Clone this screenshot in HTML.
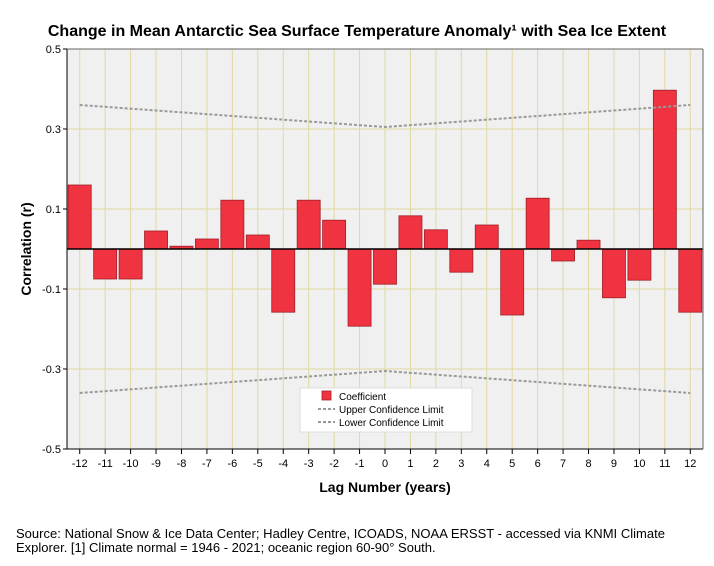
<!DOCTYPE html>
<html><head><meta charset="utf-8"><style>
body{margin:0;background:#fff;font-family:"Liberation Sans",Arial,sans-serif;}
svg text{font-family:"Liberation Sans",Arial,sans-serif;}
</style></head><body>
<svg id="chart" width="714" height="561" xmlns="http://www.w3.org/2000/svg">
<rect width="714" height="561" fill="#fff"/>
<text x="357" y="36" text-anchor="middle" font-size="16" font-weight="bold">Change in Mean Antarctic Sea Surface Temperature Anomaly¹ with Sea Ice Extent</text>
<rect x="67" y="49" width="636" height="400" fill="#f0f0f0"/>
<g id="grid"></g>
<g id="bars"></g>
<g id="lines"></g>
<g id="axes"></g>
<text transform="translate(31,249) rotate(-90)" text-anchor="middle" font-size="14" font-weight="bold">Correlation (r)</text>
<text x="385" y="492" text-anchor="middle" font-size="14" font-weight="bold">Lag Number (years)</text>
<g>
<rect x="300" y="388" width="172" height="44" fill="#fff" stroke="#ddd"/>
<rect x="322" y="391" width="9" height="9" fill="#ef3340" stroke="#a0202a" stroke-width="0.8"/>
<text x="339" y="400" font-size="10">Coefficient</text>
<line x1="318" y1="409" x2="335" y2="409" stroke="#999" stroke-width="2" stroke-dasharray="3,2"/>
<text x="339" y="413" font-size="10">Upper Confidence Limit</text>
<line x1="318" y1="422" x2="335" y2="422" stroke="#999" stroke-width="2" stroke-dasharray="3,2"/>
<text x="339" y="426" font-size="10">Lower Confidence Limit</text>
</g>
<text x="16" y="538" font-size="13" textLength="649">Source: National Snow &amp; Ice Data Center; Hadley Centre, ICOADS, NOAA ERSST - accessed via KNMI Climate</text>
<text x="16" y="552" font-size="13">Explorer. [1] Climate normal = 1946 - 2021; oceanic region 60-90° South.</text>
</svg>
<script>
const lags=[-12,-11,-10,-9,-8,-7,-6,-5,-4,-3,-2,-1,0,1,2,3,4,5,6,7,8,9,10,11,12];
const coefficients=[0.16,-0.075,-0.075,0.045,0.007,0.025,0.122,0.035,-0.158,0.122,0.072,-0.193,-0.088,0.083,0.048,-0.058,0.06,-0.165,0.127,-0.03,0.022,-0.122,-0.078,0.397,-0.158];
const limitLags=[-12,0,12];
const upperLimits=[0.36,0.305,0.36];
const lowerLimits=[-0.36,-0.305,-0.36];
const yTicks=[0.5,0.3,0.1,-0.1,-0.3,-0.5];
const yTickLabels=["0.5","0.3","0.1","-0.1","-0.3","-0.5"];
const NS="http://www.w3.org/2000/svg";
const L=67,R=703,T=49,B=449,yMin=-0.5,yMax=0.5;
const band=(R-L)/lags.length;
function xs(l){return L+band*(l-lags[0])+band/2;}
function ys(v){return B-(v-yMin)/(yMax-yMin)*(B-T);}
function mk(tag,attrs,parent){const e=document.createElementNS(NS,tag);for(const k in attrs)e.setAttribute(k,attrs[k]);document.getElementById(parent).appendChild(e);return e;}
lags.forEach(l=>{const g=mk('line',{x1:xs(l),x2:xs(l),y1:T,y2:B,stroke:'#e0d9a0','stroke-width':1},'grid');

});
yTicks.forEach(v=>{const g=mk('line',{x1:L,x2:R,y1:ys(v),y2:ys(v),stroke:'#e0d9a0','stroke-width':1},'grid');

});
lags.forEach((l,i)=>{const v=coefficients[i];const y0=ys(0),y1=ys(v);
const b=mk('rect',{x:xs(l)-band/2+1.2,y:Math.min(y0,y1),width:band-2.4,height:Math.abs(y1-y0),fill:'#ef3340',stroke:'#a0202a','stroke-width':0.8},'bars');

});
function pl(arr,name){const p=mk('polyline',{points:limitLags.map((l,i)=>xs(l)+','+ys(arr[i])).join(' '),fill:'none',stroke:'#999','stroke-width':2,'stroke-dasharray':'3,2'},'lines');

}
pl(upperLimits,'upper-confidence-line');pl(lowerLimits,'lower-confidence-line');
const z=mk('line',{x1:L,x2:R,y1:ys(0),y2:ys(0),stroke:'#000','stroke-width':1.5},'axes');


mk('line',{x1:L,x2:L,y1:T,y2:B,stroke:'#000','stroke-width':1},'axes');
mk('line',{x1:L,x2:R,y1:B,y2:B,stroke:'#000','stroke-width':1},'axes');
mk('line',{x1:L,x2:R,y1:T,y2:T,stroke:'#666','stroke-width':1},'axes');
mk('line',{x1:R,x2:R,y1:T,y2:B,stroke:'#666','stroke-width':1},'axes');
yTicks.forEach((v,i)=>{mk('line',{x1:L-4,x2:L,y1:ys(v),y2:ys(v),stroke:'#000'},'axes');
const t=mk('text',{x:L-6,y:ys(v)+4,'text-anchor':'end','font-size':11},'axes');t.textContent=yTickLabels[i];

});
lags.forEach(l=>{mk('line',{x1:xs(l),x2:xs(l),y1:B,y2:B+5,stroke:'#000'},'axes');
const t=mk('text',{x:xs(l),y:B+18,'text-anchor':'middle','font-size':11},'axes');t.textContent=String(l);

});
</script>
</body></html>
